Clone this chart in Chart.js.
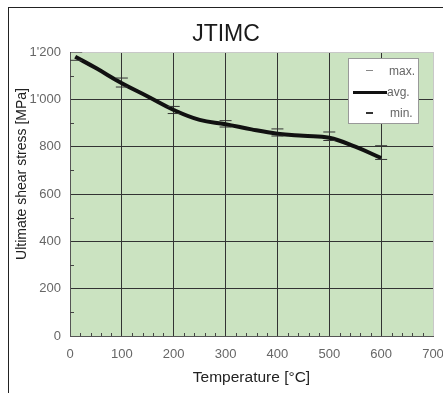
<!DOCTYPE html>
<html lang="en">
<head>
<meta charset="UTF-8">
<title>JTIMC</title>
<script src="https://cdn.jsdelivr.net/npm/chart.js"></script>
<style>
    html, body { margin: 0; padding: 0; background: #fff; overflow: hidden; }
    body { width: 443px; height: 395px; position: relative; font-family: "Liberation Sans", Arial, sans-serif; }
    #wrap { position: absolute; left: 0; top: 0; width: 460px; height: 395px; }
    #frame { position: absolute; left: 8px; top: 7px; width: 480px; height: 385px;
             border-left: 1px solid #222; border-top: 1px solid #222; pointer-events: none; }
    #title { position: absolute; left: 126px; top: 22px; width: 200px; text-align: center;
             font-size: 23px; line-height: 23px; color: #1a1a1a; }
    #ytitle { position: absolute; left: -89px; top: 167px; width: 220px; height: 14px; text-align: center;
              font-size: 14px; line-height: 14px; color: #222; transform: rotate(-90deg); white-space: nowrap; }
    #legend { position: absolute; left: 348px; top: 58px; width: 69px; height: 64px;
              background: #fff; border: 1px solid #999; font-size: 12px; color: #666; }
    #legend .row { position: absolute; left: 0; width: 100%; height: 14px; }
    #legend .mark { position: absolute; }
    #legend .txt { position: absolute; top: 0; line-height: 14px; }
</style>
</head>
<body>
<div id="wrap"><canvas id="chart" width="460" height="395"></canvas></div>
<div id="frame"></div>
<div id="title">JTIMC</div>
<div id="ytitle">Ultimate shear stress [MPa]</div>
<div id="legend">
    <div class="row" style="top:5px"><div class="mark" style="left:17px;top:6px;width:7px;height:1px;background:#888"></div><span class="txt" style="left:40px">max.</span></div>
    <div class="row" style="top:26px"><div class="mark" style="left:4px;top:6px;width:34px;height:3px;background:#111"></div><span class="txt" style="left:38px">avg.</span></div>
    <div class="row" style="top:47px"><div class="mark" style="left:17px;top:6px;width:7px;height:2px;background:#333"></div><span class="txt" style="left:41px">min.</span></div>
</div>

<script>
// average curve
const avgTemps = [10, 50, 100, 150, 200, 250, 300, 350, 400, 450, 500, 550, 600];
const avgStress = [1180, 1132, 1068, 1012, 955, 913, 895, 873, 855, 846, 838, 800, 752];

// scatter caps at the test temperatures
const capTemps = [12, 100, 200, 300, 400, 500, 600];
const maxStress = [1200, 1090, 970, 910, 875, 862, 804];
const minStress = [1165, 1052, 940, 883, 845, 826, 746];

const xTicks = [0, 100, 200, 300, 400, 500, 600, 700];
const yTicks = [0, 200, 400, 600, 800, 1000, 1200];
const yTickText = ['0', '200', '400', '600', '800', "1'000", "1'200"];

const toPoints = (xs, ys) => xs.map((x, i) => ({ x: x, y: ys[i] }));

const plotBg = {
    id: 'plotBg',
    beforeDraw(chart) {
        const { ctx, chartArea: a } = chart;
        ctx.save();
        ctx.fillStyle = '#cbe3c1';
        ctx.fillRect(a.left, a.top, a.right - a.left, a.bottom - a.top);
        ctx.restore();
    }
};

// small inward minor ticks on the left and bottom axes
const minorTicks = {
    id: 'minorTicks',
    afterDatasetsDraw(chart) {
        const { ctx, chartArea: a, scales } = chart;
        ctx.save();
        ctx.strokeStyle = '#444';
        ctx.lineWidth = 1;
        ctx.beginPath();
        for (let v = 100; v < 1200; v += 200) {
            const y = Math.round(scales.y.getPixelForValue(v)) + 0.5;
            ctx.moveTo(a.left, y);
            ctx.lineTo(a.left + 4, y);
        }
        for (let v = 20; v < 700; v += 20) {
            if (v % 100 === 0) continue;
            const x = Math.round(scales.x.getPixelForValue(v)) + 0.5;
            ctx.moveTo(x, a.bottom);
            ctx.lineTo(x, a.bottom - 3);
        }
        ctx.stroke();
        ctx.restore();
    }
};

const tickFont = { family: '"Liberation Sans", Arial, sans-serif', size: 13 };

new Chart(document.getElementById('chart'), {
    type: 'scatter',
    data: {
        datasets: [
            {
                label: 'avg.',
                type: 'line',
                data: toPoints(avgTemps, avgStress),
                borderColor: '#111',
                borderWidth: 4,
                pointRadius: 0,
                tension: 0.4,
                fill: false,
                order: 1
            },
            {
                label: 'max.',
                data: toPoints(capTemps, maxStress),
                pointStyle: 'line',
                pointRadius: 6,
                borderColor: '#333',
                borderWidth: 1,
                order: 0
            },
            {
                label: 'min.',
                data: toPoints(capTemps, minStress),
                pointStyle: 'line',
                pointRadius: 6,
                borderColor: '#333',
                borderWidth: 1,
                order: 0
            }
        ]
    },
    options: {
        responsive: false,
        animation: false,
        layout: { padding: { left: 0, right: 27, top: 52, bottom: 0 } },
        plugins: {
            legend: { display: false },
            tooltip: { enabled: false }
        },
        scales: {
            x: {
                type: 'linear',
                min: 0,
                max: 700,
                afterBuildTicks: s => { s.ticks = xTicks.map(v => ({ value: v })); },
                afterFit: s => { s.height = 59; },
                ticks: { color: '#666', padding: 11, font: tickFont },
                grid: {
                    drawTicks: false,
                    color: c => (c.tick && c.tick.value === 700) ? '#c8c8c8' : '#333',
                    lineWidth: 1
                },
                border: { color: '#555', width: 1 },
                title: {
                    display: true,
                    text: 'Temperature [°C]',
                    color: '#222',
                    font: { family: '"Liberation Sans", Arial, sans-serif', size: 15.5 },
                    padding: { top: 8, bottom: 8 }
                }
            },
            y: {
                min: 0,
                max: 1200,
                afterBuildTicks: s => { s.ticks = yTicks.map(v => ({ value: v })); },
                afterFit: s => { s.width = 70; },
                ticks: {
                    color: '#666',
                    padding: 9,
                    font: tickFont,
                    callback: v => yTickText[yTicks.indexOf(v)]
                },
                grid: {
                    drawTicks: false,
                    color: c => (c.tick && c.tick.value === 1200) ? '#c8c8c8' : '#333',
                    lineWidth: 1
                },
                border: { color: '#555', width: 1 }
            }
        }
    },
    plugins: [plotBg, minorTicks]
});
</script>
</body>
</html>
